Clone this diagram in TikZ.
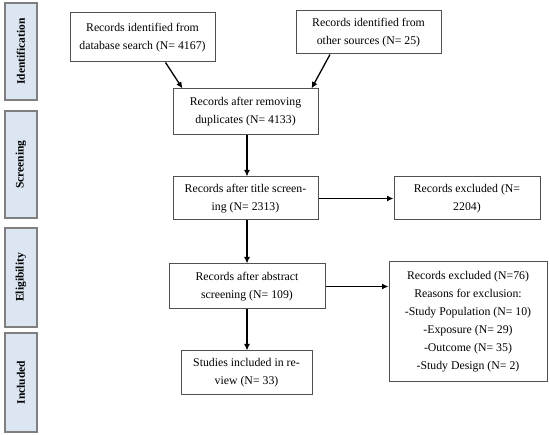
\documentclass[tikz,border=0pt]{standalone}
\usepackage{fontspec}
\setmainfont{Liberation Serif}
\usetikzlibrary{arrows.meta}
\definecolor{sidefill}{HTML}{DCE6F2}
\definecolor{sideedge}{HTML}{7F7F7F}
\definecolor{boxedge}{HTML}{505050}
\tikzset{
  flowbox/.style={draw=boxedge, line width=1pt, fill=white, align=center, inner sep=2pt,
    font=\fontsize{11.8}{18}\selectfont},
  sidebox/.style={draw=sideedge, line width=1.1pt, fill=sidefill, minimum width=32pt,
    font=\fontsize{11.5}{13}\selectfont\bfseries},
  arr/.style={line width=1.3pt, -{Latex[length=6.5pt,width=6pt]}}
}
\begin{document}
\begin{tikzpicture}[x=1pt,y=-1pt]
\useasboundingbox (0,0) rectangle (550,435);
% side labels
\node[sidebox, minimum height=97pt] (s1) at (21,51.5) {\rotatebox{90}{Identification}};
\node[sidebox, minimum height=107pt] (s2) at (21,164.5) {\rotatebox{90}{Screening}};
\node[sidebox, minimum height=99pt] (s3) at (21,277.5) {\rotatebox{90}{Eligibility}};
\node[sidebox, minimum height=99pt] (s4) at (21,382.5) {\rotatebox{90}{Included}};
% flow boxes
\node[flowbox, minimum width=145pt, minimum height=49pt] (A) at (142.5,37.5) {Records identified from\\database search (N= 4167)};
\node[flowbox, minimum width=145pt, minimum height=43pt] (B) at (368.5,32.5) {Records identified from\\other sources (N= 25)};
\node[flowbox, minimum width=145pt, minimum height=46pt] (C) at (245.5,112) {Records after removing\\duplicates (N= 4133)};
\node[flowbox, minimum width=145pt, minimum height=43pt] (D) at (245.5,198.5) {Records after title screen-\\ing (N= 2313)};
\node[flowbox, minimum width=146pt, minimum height=43pt] (E) at (467,198.5) {Records excluded (N=\\2204)};
\node[flowbox, minimum width=156pt, minimum height=45pt] (F) at (247,286.5) {Records after abstract\\screening (N= 109)};
\node[flowbox, minimum width=131pt, minimum height=44pt] (G) at (246.5,373) {Studies included in re-\\view (N= 33)};
\node[flowbox, minimum width=158pt, minimum height=120pt] (H) at (468,322) {Records excluded (N=76)\\Reasons for exclusion:\\-Study Population (N= 10)\\-Exposure (N= 29)\\-Outcome (N= 35)\\-Study Design (N= 2)};
% connectors
\draw[arr] ([xshift=23pt]A.south) -- ([xshift=10pt]C.north west);
\draw[arr] ([xshift=-38.5pt]B.south) -- ([xshift=-7pt]C.north east);
\draw[arr] ([xshift=1.5pt]C.south) -- ([xshift=1.5pt]C.south |- D.north);
\draw[arr] (D.east) -- (E.west);
\draw[arr] ([xshift=1.5pt]D.south) -- ([xshift=1.5pt]D.south |- F.north);
\draw[arr] (F.east) -- (F.east -| H.west);
\draw[arr] (F.south) -- (F.south |- G.north);
\end{tikzpicture}
\end{document}
